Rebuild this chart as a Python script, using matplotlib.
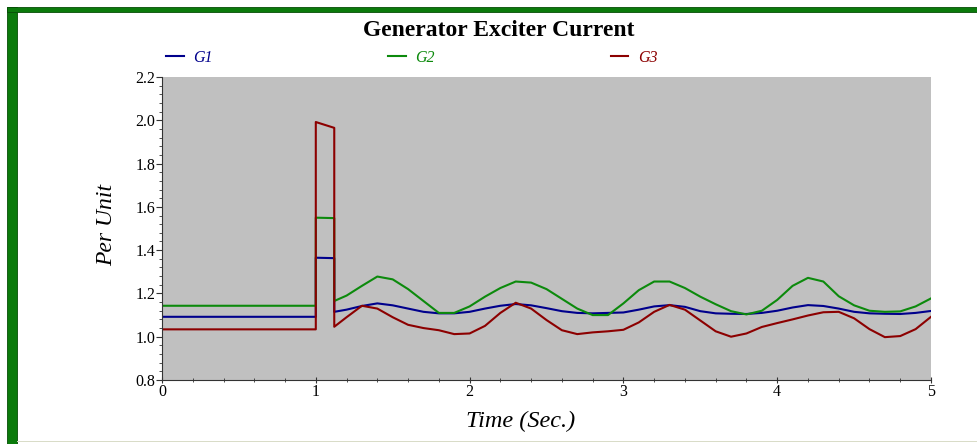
import numpy as np
import matplotlib
matplotlib.use('Agg')
import matplotlib.pyplot as plt
from matplotlib.patches import Rectangle
from matplotlib.ticker import MultipleLocator

# ---- data ----
# pre-fault, fault window (1.00 - 1.12 s), then post-fault swing
t = [0.0, 1.0, 1.0, 1.12, 1.12,
     1.2, 1.3, 1.4, 1.5, 1.6, 1.7, 1.8, 1.9, 2.0,
     2.1, 2.2, 2.3, 2.4, 2.5, 2.6, 2.7, 2.8, 2.9, 3.0,
     3.1, 3.2, 3.3, 3.4, 3.5, 3.6, 3.7, 3.8, 3.9, 4.0,
     4.1, 4.2, 4.3, 4.4, 4.5, 4.6, 4.7, 4.8, 4.9, 5.0]

g1 = [1.092, 1.092, 1.365, 1.363, 1.115,
      1.125, 1.142, 1.154, 1.145, 1.130, 1.115, 1.108, 1.108, 1.115,
      1.130, 1.143, 1.151, 1.145, 1.132, 1.118, 1.110, 1.108, 1.110, 1.112,
      1.125, 1.140, 1.146, 1.138, 1.118, 1.108, 1.106, 1.105, 1.110, 1.120,
      1.135, 1.146, 1.142, 1.130, 1.115, 1.108, 1.106, 1.105, 1.110, 1.119]

g2 = [1.143, 1.143, 1.550, 1.548, 1.165,
      1.190, 1.235, 1.278, 1.265, 1.220, 1.165, 1.110, 1.110, 1.140,
      1.185, 1.225, 1.255, 1.250, 1.220, 1.175, 1.130, 1.100, 1.100, 1.154,
      1.215, 1.255, 1.255, 1.225, 1.185, 1.150, 1.118, 1.103, 1.120, 1.170,
      1.235, 1.272, 1.255, 1.187, 1.145, 1.120, 1.115, 1.117, 1.140, 1.177]

g3 = [1.034, 1.034, 1.992, 1.965, 1.046,
      1.090, 1.143, 1.130, 1.090, 1.055, 1.040, 1.030, 1.012, 1.015,
      1.050, 1.110, 1.157, 1.130, 1.077, 1.030, 1.012, 1.020, 1.025, 1.032,
      1.066, 1.115, 1.147, 1.125, 1.075, 1.025, 1.000, 1.015, 1.045, 1.063,
      1.080, 1.098, 1.113, 1.115, 1.085, 1.035, 0.998, 1.003, 1.035, 1.092]

labels = ['G1', 'G2', 'G3']
colors = ['#00008c', '#0c8a0c', '#8c0000']

serif = ['Liberation Serif', 'DejaVu Serif']

fig = plt.figure(figsize=(9.77, 4.44), dpi=100)
fig.patch.set_facecolor('white')

# green frame (top and left) like the original window
fig.patches.append(Rectangle((7/977, 0), 10/977, 1 - 7/444, transform=fig.transFigure,
                             facecolor='#0b7a0b', edgecolor='#064d06', lw=0.6))
fig.patches.append(Rectangle((7/977, 1 - 12.5/444), 1, 5.5/444, transform=fig.transFigure,
                             facecolor='#0b7a0b', edgecolor='#064d06', lw=0.6))
fig.patches.append(Rectangle((17/977, 2/444), 1, 1.2/444, transform=fig.transFigure,
                             facecolor='#d9dcc8', edgecolor='none'))

ax = fig.add_axes([162/977, 1 - 380/444, (931 - 162)/977, (380 - 77)/444])
ax.set_facecolor('#c0c0c0')

for ys, lab, col in zip([g1, g2, g3], labels, colors):
    ax.plot(t, ys, color=col, lw=1.5, label=lab)

ax.set_xlim(0, 5)
ax.set_ylim(0.8, 2.2)
ax.xaxis.set_major_locator(MultipleLocator(1))
ax.xaxis.set_minor_locator(MultipleLocator(0.2))
ax.yaxis.set_major_locator(MultipleLocator(0.2))
ax.yaxis.set_minor_locator(MultipleLocator(0.04))
ax.yaxis.set_major_formatter(lambda v, p: f'{v:.1f}')

for s in ['top', 'right']:
    ax.spines[s].set_visible(False)
for s in ['left', 'bottom']:
    ax.spines[s].set_color('#333333')
    ax.spines[s].set_linewidth(0.8)

ax.tick_params(axis='both', which='major', labelsize=11.5, color='#333333', length=4, pad=1)
ax.tick_params(axis='both', which='minor', color='#333333', length=2.5)
ax.tick_params(axis='x', which='both', direction='inout')
for lbl in ax.get_xticklabels() + ax.get_yticklabels():
    lbl.set_family(serif)

ax.set_xlabel('Time (Sec.)', family=serif, style='italic', fontsize=17.5)
ax.set_ylabel('Per Unit', family=serif, style='italic', fontsize=17)
ax.xaxis.set_label_coords((521 - 162)/769, (380 - 421)/303)
ax.yaxis.set_label_coords((107 - 162)/769, (380 - 225)/303)
ax.xaxis.label.set_va('center')
ax.yaxis.label.set_va('center')

fig.text(0.51, 1 - 30/444, 'Generator Exciter Current', ha='center', va='center',
         family=serif, weight='bold', fontsize=17)

leg = ax.legend(loc='center left', ncol=3, frameon=False, handlelength=1.1, handletextpad=0.6,
                columnspacing=11.0, labelcolor='linecolor', borderaxespad=0, borderpad=0,
                prop={'family': serif, 'style': 'italic', 'size': 11.5})
leg.set_bbox_to_anchor((4/769, 1 + (77 - 58)/303), transform=ax.transAxes)

plt.savefig('out.png', dpi=100)
